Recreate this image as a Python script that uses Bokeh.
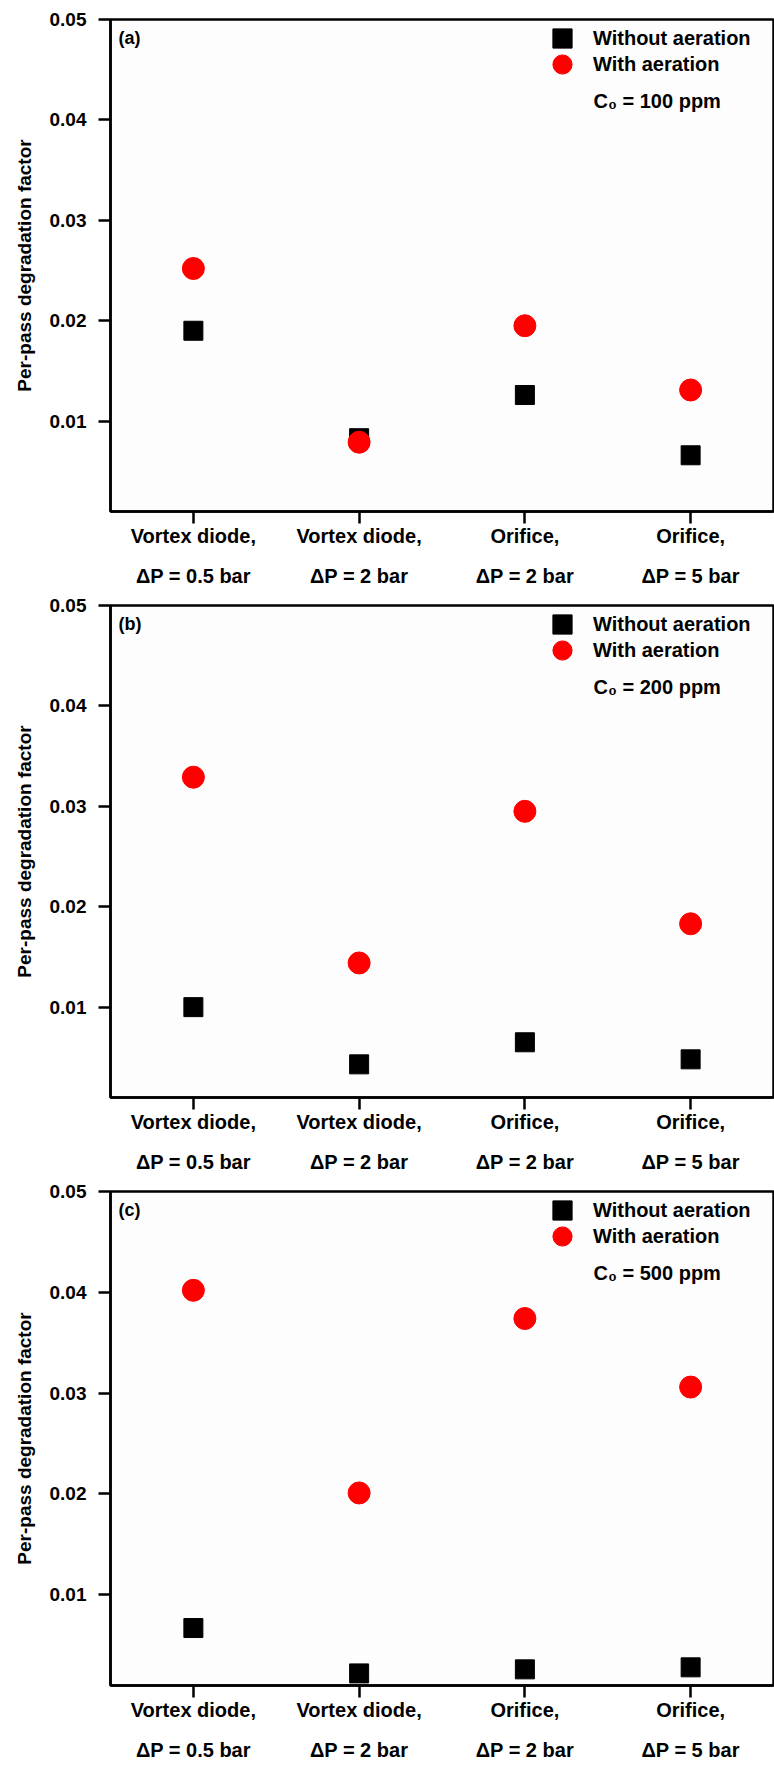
from bokeh.plotting import figure
from bokeh.models import (Range1d, FixedTicker, PrintfTickFormatter, LinearAxis,
                          Legend, LegendItem, Label)
from bokeh.layouts import column
from bokeh.embed import file_html
from bokeh.resources import INLINE

# ---------------- data ----------------
devices = ["Vortex diode,", "Vortex diode,", "Orifice,", "Orifice,"]
pressures = ["\u0394P = 0.5 bar", "\u0394P = 2 bar", "\u0394P = 2 bar", "\u0394P = 5 bar"]
x_pos = [1, 2, 3, 4]

panel_tags = ["(a)", "(b)", "(c)"]
concentrations = ["C\u2080 = 100 ppm", "C\u2080 = 200 ppm", "C\u2080 = 500 ppm"]

without_a = [0.0190, 0.0083, 0.0126, 0.0066]
with_a = [0.0252, 0.0079, 0.0195, 0.0131]
without_b = [0.0100, 0.0043, 0.0065, 0.0048]
with_b = [0.0329, 0.0144, 0.0295, 0.0183]
without_c = [0.0067, 0.0022, 0.0026, 0.0028]
with_c = [0.0402, 0.0201, 0.0374, 0.0306]

y_ticks = [0.01, 0.02, 0.03, 0.04, 0.05]
y_min, y_max = 0.001, 0.05
y_title = "Per-pass degradation factor"
series_names = ["Without aeration", "With aeration"]

FONT = "Liberation Sans"


def make_panel(tag, conc, without, with_, height, top, bottom):
    p = figure(width=774, height=height,
               x_range=Range1d(0.5, 4.5), y_range=Range1d(y_min, y_max),
               output_backend="svg", toolbar_location=None,
               min_border_left=110, min_border_right=1,
               min_border_top=top, min_border_bottom=bottom)
    p.xgrid.visible = False
    p.ygrid.visible = False
    p.background_fill_color = "#fdfdfd"
    p.border_fill_color = "white"
    p.outline_line_color = "black"
    p.outline_line_width = 2.5
    p.outline_line_alpha = 1

    # primary x-axis (first line of labels)
    xa = p.xaxis[0]
    xa.ticker = FixedTicker(ticks=x_pos)
    xa.major_label_overrides = {x: d for x, d in zip(x_pos, devices)}
    xa.major_tick_out = 12
    xa.major_tick_in = 0
    xa.minor_tick_line_color = None
    xa.axis_line_width = 2.5
    xa.major_tick_line_width = 2.5
    xa.major_label_standoff = 1
    xa.major_label_text_font = FONT
    xa.major_label_text_font_style = "bold"
    xa.major_label_text_font_size = "20px"
    xa.major_label_text_color = "black"

    # second line of labels
    xb = LinearAxis(ticker=FixedTicker(ticks=x_pos),
                    major_label_overrides={x: pr for x, pr in zip(x_pos, pressures)},
                    axis_line_color=None, major_tick_line_color=None,
                    minor_tick_line_color=None, major_tick_out=0, major_tick_in=0,
                    major_label_standoff=15,
                    major_label_text_font=FONT, major_label_text_font_style="bold",
                    major_label_text_font_size="20px", major_label_text_color="black")
    p.add_layout(xb, "below")

    ya = p.yaxis[0]
    ya.ticker = FixedTicker(ticks=y_ticks)
    ya.formatter = PrintfTickFormatter(format="%.2f")
    ya.major_tick_out = 12
    ya.major_tick_in = 0
    ya.minor_tick_line_color = None
    ya.axis_line_width = 2.5
    ya.major_tick_line_width = 2.5
    ya.major_label_standoff = 12
    ya.major_label_text_font = FONT
    ya.major_label_text_font_style = "bold"
    ya.major_label_text_font_size = "19px"
    ya.major_label_text_color = "black"
    ya.axis_label = y_title
    ya.axis_label_standoff = 12
    ya.axis_label_text_font = FONT
    ya.axis_label_text_font_style = "bold"
    ya.axis_label_text_font_size = "19px"
    ya.axis_label_text_color = "black"

    r1 = p.scatter(x_pos, without, marker="square", size=19,
                   fill_color="black", line_color="black")
    r2 = p.scatter(x_pos, with_, marker="circle", size=22,
                   fill_color="#ff0000", line_color="#ff0000")

    frame_h = height - top - bottom
    common = dict(glyph_width=48, glyph_height=48, label_height=48,
                  padding=0, margin=0, label_standoff=7,
                  label_text_font=FONT, label_text_font_style="bold",
                  label_text_font_size="20px", label_text_color="black",
                  border_line_color=None, background_fill_alpha=0)
    leg1 = Legend(items=[LegendItem(label=series_names[0], renderers=[r1])],
                  location=(428, frame_h + 5 - 48), **common)
    leg2 = Legend(items=[LegendItem(label=series_names[1], renderers=[r2])],
                  location=(428, frame_h - 21 - 48), **common)
    p.add_layout(leg1)
    p.add_layout(leg2)

    p.add_layout(Label(x=0.5, y=y_max, x_offset=8, y_offset=-18, text=tag,
                       text_baseline="middle", text_font=FONT,
                       text_font_style="bold", text_font_size="18px",
                       text_color="black"))
    p.add_layout(Label(x=0.5, y=y_max, x_offset=483, y_offset=-81, text=conc,
                       text_baseline="middle", text_font=FONT,
                       text_font_style="bold", text_font_size="20px",
                       text_color="black"))
    return p


p1 = make_panel(panel_tags[0], concentrations[0], without_a, with_a, 594, 19, 83)
p2 = make_panel(panel_tags[1], concentrations[1], without_b, with_b, 586, 11, 83)
p3 = make_panel(panel_tags[2], concentrations[2], without_c, with_c, 585, 11, 80)

page = column(p1, p2, p3, spacing=0)
open("out.html", "w").write(file_html(page, INLINE))
